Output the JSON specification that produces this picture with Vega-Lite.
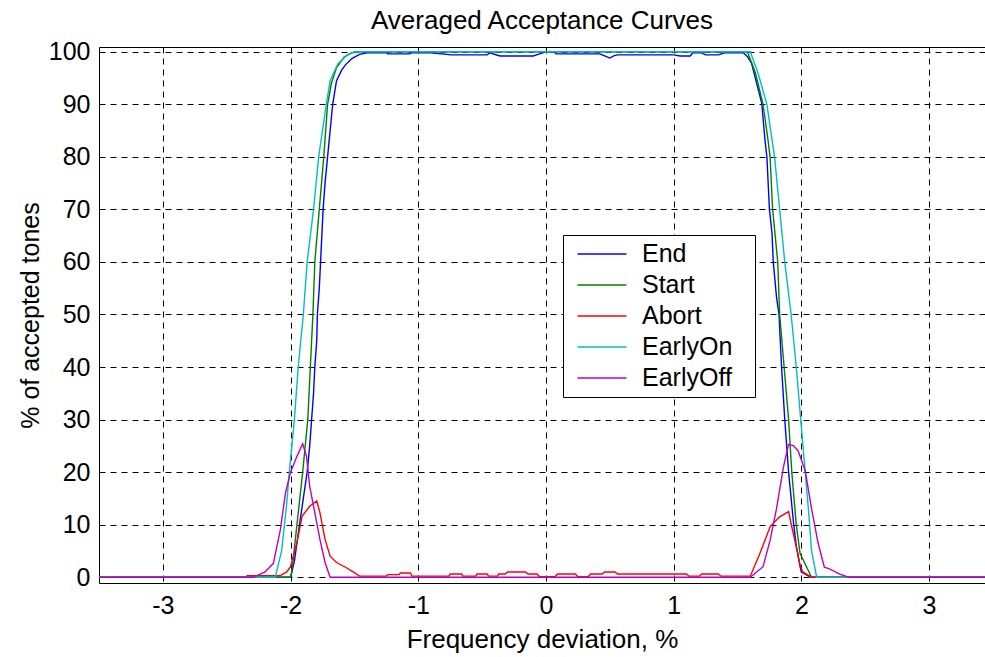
{
  "$schema": "https://vega.github.io/schema/vega-lite/v6.json",
  "autosize": {"type": "none"},
  "padding": {"left": 99, "top": 47, "right": 0, "bottom": 74},
  "width": 886,
  "height": 536,
  "background": "white",
  "title": {"text": "Averaged Acceptance Curves", "fontSize": 26, "font": "Liberation Sans", "fontWeight": "normal", "color": "black", "baseline": "top", "offset": 6, "anchor": "middle"},
  "datasets": {
    "curves": [
      {"s": "End", "x": -3.5, "y": 0}, {"s": "End", "x": -2.0, "y": 0}, {"s": "End", "x": -1.97, "y": 3}, {"s": "End", "x": -1.93, "y": 10}, {"s": "End", "x": -1.9, "y": 15}, {"s": "End", "x": -1.87, "y": 20}, {"s": "End", "x": -1.85, "y": 25}, {"s": "End", "x": -1.835, "y": 30}, {"s": "End", "x": -1.82, "y": 35}, {"s": "End", "x": -1.81, "y": 40}, {"s": "End", "x": -1.795, "y": 45}, {"s": "End", "x": -1.79, "y": 50}, {"s": "End", "x": -1.775, "y": 55}, {"s": "End", "x": -1.765, "y": 60}, {"s": "End", "x": -1.755, "y": 65}, {"s": "End", "x": -1.745, "y": 70}, {"s": "End", "x": -1.73, "y": 75}, {"s": "End", "x": -1.71, "y": 80}, {"s": "End", "x": -1.69, "y": 85}, {"s": "End", "x": -1.67, "y": 90}, {"s": "End", "x": -1.64, "y": 94.5}, {"s": "End", "x": -1.6, "y": 96.5}, {"s": "End", "x": -1.57, "y": 97.5}, {"s": "End", "x": -1.52, "y": 98.7}, {"s": "End", "x": -1.46, "y": 99.5}, {"s": "End", "x": -1.4, "y": 99.8}, {"s": "End", "x": -1.25, "y": 99.8}, {"s": "End", "x": -1.24, "y": 99.6}, {"s": "End", "x": -1.07, "y": 99.6}, {"s": "End", "x": -1.05, "y": 99.8}, {"s": "End", "x": -0.9, "y": 99.8}, {"s": "End", "x": -0.74, "y": 99.4}, {"s": "End", "x": -0.46, "y": 99.4}, {"s": "End", "x": -0.44, "y": 99.8}, {"s": "End", "x": -0.36, "y": 99.2}, {"s": "End", "x": -0.1, "y": 99.2}, {"s": "End", "x": -0.05, "y": 99.6}, {"s": "End", "x": 0.0, "y": 100}, {"s": "End", "x": 0.06, "y": 100}, {"s": "End", "x": 0.08, "y": 99.6}, {"s": "End", "x": 0.42, "y": 99.6}, {"s": "End", "x": 0.46, "y": 99.2}, {"s": "End", "x": 0.5, "y": 98.8}, {"s": "End", "x": 0.53, "y": 99.2}, {"s": "End", "x": 0.56, "y": 99.4}, {"s": "End", "x": 1.0, "y": 99.4}, {"s": "End", "x": 1.05, "y": 99.2}, {"s": "End", "x": 1.13, "y": 99.2}, {"s": "End", "x": 1.15, "y": 99.8}, {"s": "End", "x": 1.22, "y": 99.8}, {"s": "End", "x": 1.25, "y": 99.4}, {"s": "End", "x": 1.35, "y": 99.4}, {"s": "End", "x": 1.4, "y": 99.8}, {"s": "End", "x": 1.545, "y": 99.8}, {"s": "End", "x": 1.58, "y": 99}, {"s": "End", "x": 1.61, "y": 97.8}, {"s": "End", "x": 1.65, "y": 94}, {"s": "End", "x": 1.69, "y": 90.2}, {"s": "End", "x": 1.715, "y": 83.2}, {"s": "End", "x": 1.73, "y": 80}, {"s": "End", "x": 1.75, "y": 70}, {"s": "End", "x": 1.77, "y": 65.5}, {"s": "End", "x": 1.78, "y": 60}, {"s": "End", "x": 1.805, "y": 53.4}, {"s": "End", "x": 1.825, "y": 50}, {"s": "End", "x": 1.845, "y": 40}, {"s": "End", "x": 1.87, "y": 30}, {"s": "End", "x": 1.9, "y": 20}, {"s": "End", "x": 1.94, "y": 10}, {"s": "End", "x": 1.96, "y": 6}, {"s": "End", "x": 1.99, "y": 2}, {"s": "End", "x": 2.0, "y": 1}, {"s": "End", "x": 2.05, "y": 0.3}, {"s": "End", "x": 2.08, "y": 0}, {"s": "End", "x": 3.5, "y": 0},

      {"s": "Start", "x": -3.5, "y": 0}, {"s": "Start", "x": -2.0, "y": 0}, {"s": "Start", "x": -1.99, "y": 1}, {"s": "Start", "x": -1.95, "y": 10}, {"s": "Start", "x": -1.905, "y": 20}, {"s": "Start", "x": -1.865, "y": 30}, {"s": "Start", "x": -1.845, "y": 40}, {"s": "Start", "x": -1.825, "y": 50}, {"s": "Start", "x": -1.81, "y": 60}, {"s": "Start", "x": -1.775, "y": 70}, {"s": "Start", "x": -1.74, "y": 80}, {"s": "Start", "x": -1.71, "y": 90}, {"s": "Start", "x": -1.68, "y": 94}, {"s": "Start", "x": -1.64, "y": 97}, {"s": "Start", "x": -1.58, "y": 99}, {"s": "Start", "x": -1.52, "y": 99.8}, {"s": "Start", "x": -1.45, "y": 100}, {"s": "Start", "x": 1.56, "y": 100}, {"s": "Start", "x": 1.58, "y": 99.8}, {"s": "Start", "x": 1.64, "y": 96}, {"s": "Start", "x": 1.7, "y": 90}, {"s": "Start", "x": 1.74, "y": 83}, {"s": "Start", "x": 1.755, "y": 80}, {"s": "Start", "x": 1.775, "y": 70}, {"s": "Start", "x": 1.815, "y": 60}, {"s": "Start", "x": 1.83, "y": 50}, {"s": "Start", "x": 1.865, "y": 40}, {"s": "Start", "x": 1.9, "y": 30}, {"s": "Start", "x": 1.925, "y": 20}, {"s": "Start", "x": 1.96, "y": 10}, {"s": "Start", "x": 1.99, "y": 4.5}, {"s": "Start", "x": 2.04, "y": 2}, {"s": "Start", "x": 2.08, "y": 0}, {"s": "Start", "x": 3.5, "y": 0},

      {"s": "Abort", "x": -3.5, "y": 0}, {"s": "Abort", "x": -2.35, "y": 0}, {"s": "Abort", "x": -2.34, "y": 0.3}, {"s": "Abort", "x": -2.08, "y": 0.3}, {"s": "Abort", "x": -2.03, "y": 1}, {"s": "Abort", "x": -2.0, "y": 2}, {"s": "Abort", "x": -1.95, "y": 6.6}, {"s": "Abort", "x": -1.91, "y": 11.6}, {"s": "Abort", "x": -1.85, "y": 13.5}, {"s": "Abort", "x": -1.795, "y": 14.5}, {"s": "Abort", "x": -1.77, "y": 12.3}, {"s": "Abort", "x": -1.73, "y": 7.2}, {"s": "Abort", "x": -1.69, "y": 4}, {"s": "Abort", "x": -1.64, "y": 2.8}, {"s": "Abort", "x": -1.57, "y": 1.9}, {"s": "Abort", "x": -1.51, "y": 1}, {"s": "Abort", "x": -1.46, "y": 0.2}, {"s": "Abort", "x": -1.25, "y": 0.2}, {"s": "Abort", "x": -1.24, "y": 0.5}, {"s": "Abort", "x": -1.15, "y": 0.5}, {"s": "Abort", "x": -1.14, "y": 0.8}, {"s": "Abort", "x": -1.06, "y": 0.8}, {"s": "Abort", "x": -1.05, "y": 0.2}, {"s": "Abort", "x": -0.76, "y": 0.2}, {"s": "Abort", "x": -0.75, "y": 0.6}, {"s": "Abort", "x": -0.66, "y": 0.6}, {"s": "Abort", "x": -0.65, "y": 0.2}, {"s": "Abort", "x": -0.55, "y": 0.2}, {"s": "Abort", "x": -0.54, "y": 0.6}, {"s": "Abort", "x": -0.46, "y": 0.6}, {"s": "Abort", "x": -0.45, "y": 0.2}, {"s": "Abort", "x": -0.38, "y": 0.2}, {"s": "Abort", "x": -0.37, "y": 0.6}, {"s": "Abort", "x": -0.32, "y": 0.6}, {"s": "Abort", "x": -0.3, "y": 1.0}, {"s": "Abort", "x": -0.16, "y": 1.0}, {"s": "Abort", "x": -0.14, "y": 0.6}, {"s": "Abort", "x": -0.07, "y": 0.6}, {"s": "Abort", "x": -0.05, "y": 0.1}, {"s": "Abort", "x": 0.07, "y": 0.1}, {"s": "Abort", "x": 0.09, "y": 0.6}, {"s": "Abort", "x": 0.23, "y": 0.6}, {"s": "Abort", "x": 0.25, "y": 0.1}, {"s": "Abort", "x": 0.33, "y": 0.1}, {"s": "Abort", "x": 0.35, "y": 0.6}, {"s": "Abort", "x": 0.44, "y": 0.6}, {"s": "Abort", "x": 0.46, "y": 1.0}, {"s": "Abort", "x": 0.54, "y": 1.0}, {"s": "Abort", "x": 0.56, "y": 0.6}, {"s": "Abort", "x": 1.1, "y": 0.6}, {"s": "Abort", "x": 1.12, "y": 0.2}, {"s": "Abort", "x": 1.2, "y": 0.2}, {"s": "Abort", "x": 1.22, "y": 0.6}, {"s": "Abort", "x": 1.35, "y": 0.6}, {"s": "Abort", "x": 1.37, "y": 0.2}, {"s": "Abort", "x": 1.6, "y": 0.2}, {"s": "Abort", "x": 1.675, "y": 4.5}, {"s": "Abort", "x": 1.755, "y": 9.6}, {"s": "Abort", "x": 1.83, "y": 11.5}, {"s": "Abort", "x": 1.9, "y": 12.5}, {"s": "Abort", "x": 1.925, "y": 9.6}, {"s": "Abort", "x": 1.96, "y": 5.8}, {"s": "Abort", "x": 1.99, "y": 2.3}, {"s": "Abort", "x": 2.01, "y": 1}, {"s": "Abort", "x": 2.08, "y": 0}, {"s": "Abort", "x": 3.5, "y": 0},

      {"s": "EarlyOn", "x": -3.5, "y": 0}, {"s": "EarlyOn", "x": -2.12, "y": 0}, {"s": "EarlyOn", "x": -2.07, "y": 5}, {"s": "EarlyOn", "x": -2.03, "y": 14}, {"s": "EarlyOn", "x": -2.01, "y": 20}, {"s": "EarlyOn", "x": -1.97, "y": 30}, {"s": "EarlyOn", "x": -1.94, "y": 40}, {"s": "EarlyOn", "x": -1.9, "y": 50}, {"s": "EarlyOn", "x": -1.87, "y": 60}, {"s": "EarlyOn", "x": -1.82, "y": 70}, {"s": "EarlyOn", "x": -1.78, "y": 80}, {"s": "EarlyOn", "x": -1.72, "y": 90}, {"s": "EarlyOn", "x": -1.69, "y": 94.5}, {"s": "EarlyOn", "x": -1.63, "y": 97.7}, {"s": "EarlyOn", "x": -1.56, "y": 99.3}, {"s": "EarlyOn", "x": -1.5, "y": 100}, {"s": "EarlyOn", "x": 1.6, "y": 100}, {"s": "EarlyOn", "x": 1.66, "y": 96}, {"s": "EarlyOn", "x": 1.73, "y": 90}, {"s": "EarlyOn", "x": 1.79, "y": 80}, {"s": "EarlyOn", "x": 1.83, "y": 70}, {"s": "EarlyOn", "x": 1.87, "y": 60}, {"s": "EarlyOn", "x": 1.92, "y": 50}, {"s": "EarlyOn", "x": 1.96, "y": 40}, {"s": "EarlyOn", "x": 1.995, "y": 30}, {"s": "EarlyOn", "x": 2.03, "y": 20}, {"s": "EarlyOn", "x": 2.055, "y": 13}, {"s": "EarlyOn", "x": 2.08, "y": 5}, {"s": "EarlyOn", "x": 2.12, "y": 0}, {"s": "EarlyOn", "x": 3.5, "y": 0},

      {"s": "EarlyOff", "x": -3.5, "y": 0}, {"s": "EarlyOff", "x": -2.29, "y": 0}, {"s": "EarlyOff", "x": -2.2, "y": 1}, {"s": "EarlyOff", "x": -2.135, "y": 2.6}, {"s": "EarlyOff", "x": -2.08, "y": 9}, {"s": "EarlyOff", "x": -2.04, "y": 16}, {"s": "EarlyOff", "x": -2.0, "y": 20}, {"s": "EarlyOff", "x": -1.95, "y": 23}, {"s": "EarlyOff", "x": -1.905, "y": 25.4}, {"s": "EarlyOff", "x": -1.875, "y": 23}, {"s": "EarlyOff", "x": -1.85, "y": 17.3}, {"s": "EarlyOff", "x": -1.81, "y": 12.3}, {"s": "EarlyOff", "x": -1.77, "y": 7.2}, {"s": "EarlyOff", "x": -1.73, "y": 2.8}, {"s": "EarlyOff", "x": -1.69, "y": 0}, {"s": "EarlyOff", "x": 1.6, "y": 0}, {"s": "EarlyOff", "x": 1.7, "y": 2}, {"s": "EarlyOff", "x": 1.755, "y": 7}, {"s": "EarlyOff", "x": 1.805, "y": 13}, {"s": "EarlyOff", "x": 1.86, "y": 21}, {"s": "EarlyOff", "x": 1.9, "y": 25.3}, {"s": "EarlyOff", "x": 1.94, "y": 25}, {"s": "EarlyOff", "x": 1.975, "y": 24}, {"s": "EarlyOff", "x": 2.03, "y": 20.3}, {"s": "EarlyOff", "x": 2.08, "y": 13}, {"s": "EarlyOff", "x": 2.13, "y": 6.6}, {"s": "EarlyOff", "x": 2.18, "y": 1.9}, {"s": "EarlyOff", "x": 2.22, "y": 1.6}, {"s": "EarlyOff", "x": 2.3, "y": 0.6}, {"s": "EarlyOff", "x": 2.37, "y": 0}, {"s": "EarlyOff", "x": 3.5, "y": 0}
    ]
  },
  "data": {"name": "curves"},
  "mark": {"type": "line", "strokeWidth": 1.4, "clip": true},
  "encoding": {
    "x": {
      "field": "x", "type": "quantitative",
      "scale": {"domain": [-3.5, 3.438], "nice": false, "zero": false},
      "axis": {
        "values": [-3, -2, -1, 0, 1, 2, 3],
        "labelExpr": "datum.value < 0 ? '-' + abs(datum.value) : '' + datum.value",
        "labelPadding": 10.5,
        "title": "Frequency deviation, %",
        "titleFontSize": 26,
        "titleBaseline": "alphabetic",
        "titleY": 64
      }
    },
    "y": {
      "field": "y", "type": "quantitative",
      "scale": {"domain": [-1.1, 100.9], "nice": false, "zero": false},
      "axis": {
        "values": [0, 10, 20, 30, 40, 50, 60, 70, 80, 90, 100],
        "labelPadding": 9,
        "title": "% of accepted tones",
        "titleX": -69,
        "titleY": 268,
        "titleAngle": -90,
        "titleAlign": "center",
        "titleBaseline": "middle"
      }
    },
    "color": {
      "field": "s", "type": "nominal",
      "scale": {"domain": ["End", "Start", "Abort", "EarlyOn", "EarlyOff"], "range": ["#0000ff", "#008000", "#ff0000", "#00bfbf", "#bf00bf"]},
      "legend": {
        "orient": "none",
        "legendX": 464,
        "legendY": 188,
        "title": "l",
        "titleColor": "white",
        "titleOrient": "right",
        "titleFontSize": 30,
        "titlePadding": 8,
        "symbolType": "M-2.04,0H2.04",
        "symbolSize": 576,
        "symbolStrokeWidth": 1.5,
        "symbolOffset": 20,
        "labelOffset": 27,
        "labelFontSize": 25,
        "labelFont": "Liberation Sans",
        "labelColor": "black",
        "rowPadding": 5,
        "padding": 6,
        "strokeColor": "black",
        "fillColor": "white",
        "cornerRadius": 0
      }
    }
  },
  "config": {
    "font": "Liberation Sans",
    "view": {"stroke": "black", "strokeWidth": 1},
    "axis": {
      "grid": true,
      "gridColor": "black",
      "gridDash": [6, 5],
      "gridWidth": 1,
      "gridOpacity": 1,
      "domain": false,
      "ticks": false,
      "tickSize": 0,
      "labelFont": "Liberation Sans",
      "labelFontSize": 25,
      "labelColor": "black",
      "titleFont": "Liberation Sans",
      "titleFontSize": 25,
      "titleFontWeight": "normal",
      "titleColor": "black"
    }
  }
}
